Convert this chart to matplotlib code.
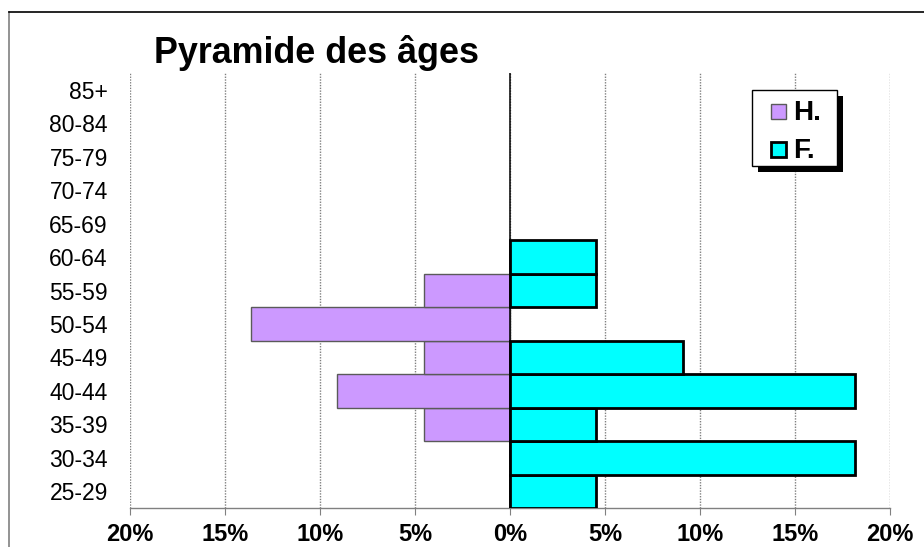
import numpy as np
import matplotlib
matplotlib.use("Agg")
import matplotlib.pyplot as plt
from matplotlib.patches import Rectangle
from matplotlib.lines import Line2D
from matplotlib.ticker import FuncFormatter
from matplotlib.transforms import Affine2D

plt.rcParams['font.family'] = ['Liberation Sans', 'DejaVu Sans']

# tranches d'âge, du bas vers le haut
ages = ['25-29', '30-34', '35-39', '40-44', '45-49', '50-54', '55-59',
        '60-64', '65-69', '70-74', '75-79', '80-84', '85+']
# pourcentages
hommes = [0, 0, 4.55, 9.09, 4.55, 13.64, 4.55, 0, 0, 0, 0, 0, 0]
femmes = [4.55, 18.18, 4.55, 18.18, 9.09, 0, 4.55, 4.55, 0, 0, 0, 0, 0]
xticks = [-20, -15, -10, -5, 0, 5, 10, 15, 20]
titre = 'Pyramide des âges'
legende = ['H.', 'F.']

col_h = '#CC99FF'
col_f = '#00FFFF'

W, H = 924, 547
fig = plt.figure(figsize=(W / 100, H / 100), dpi=100)
ax = fig.add_axes([130 / W, 1 - 508 / H, 760 / W, 435 / H])

# coordonnées en pixels, origine en haut à gauche
px = Affine2D().scale(1 / W, -1 / H).translate(0, 1) + fig.transFigure

y = np.arange(len(ages))
h = np.array(hommes)
f = np.array(femmes)

# barres hommes à gauche, femmes à droite
mh = h > 0
ax.barh(y[mh], -h[mh], height=1.0, color=col_h, edgecolor='#5a5a5a', linewidth=1.0, zorder=2)
mf = f > 0
ax.barh(y[mf], f[mf], height=1.0, color=col_f, edgecolor='black', linewidth=2.0, zorder=3)

ax.axvline(0, color='black', linewidth=1.1, zorder=4)

ax.set_xlim(-20, 20)
ax.set_ylim(-0.5, len(ages) - 0.5)
ax.set_xticks(xticks)
ax.xaxis.set_major_formatter(FuncFormatter(lambda v, p: f'{abs(int(v))}%'))
ax.set_yticks(y)
ax.set_yticklabels(ages)

ax.grid(axis='x', color='#808080', linestyle=(0, (1, 1)), linewidth=1.0)
ax.set_axisbelow(True)

for s in ['top', 'left', 'right']:
    ax.spines[s].set_visible(False)
ax.spines['bottom'].set_color('#808080')
ax.spines['bottom'].set_linewidth(1.0)

ax.tick_params(axis='x', direction='out', length=5, color='#808080', pad=6,
               labelsize=17)
for t in ax.get_xticklabels():
    t.set_fontweight('bold')
ax.tick_params(axis='y', length=0, pad=16, labelsize=16.5)

# légende avec ombre portée (dessinée à la main)
fig.add_artist(Rectangle((758, 96), 85, 76, transform=px, facecolor='black',
                         edgecolor='none', zorder=5))
fig.add_artist(Rectangle((752, 90), 85, 76, transform=px, facecolor='white',
                         edgecolor='black', linewidth=1.0, zorder=6))
styles = [(col_h, '#5a5a5a', 1.0), (col_f, 'black', 2.0)]
for i, (lab, (fc, ec, lw)) in enumerate(zip(legende, styles)):
    yc = 111 + i * 38
    fig.add_artist(Rectangle((771, yc - 7.5), 15, 15, transform=px, facecolor=fc,
                             edgecolor=ec, linewidth=lw, zorder=7))
    fig.text(793 / W, 1 - (yc + 8.5) / H, lab, ha='left', va='baseline',
             fontsize=20, fontweight='bold', zorder=7)

fig.text(316 / W, 1 - 63 / H, titre, ha='center', va='baseline',
         fontsize=25.8, fontweight='bold')

# cadre du graphique
fig.add_artist(Line2D([9, 9], [12, H], color='#808080', linewidth=1.2, transform=px))
fig.add_artist(Line2D([9, W], [12, 12], color='black', linewidth=1.2, transform=px))

fig.savefig('out.png', dpi=100)
